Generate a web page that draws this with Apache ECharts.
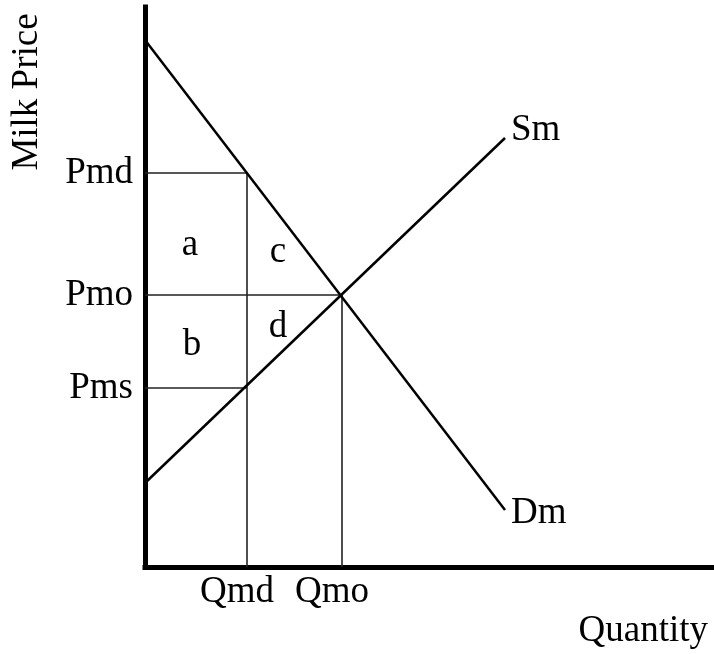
<!DOCTYPE html>
<html lang="en">
<head>
<meta charset="UTF-8">
<title>Milk Price</title>
<script src="https://cdn.jsdelivr.net/npm/echarts@6/dist/echarts.min.js"></script>
<style>
    html, body { margin: 0; padding: 0; background: #fff; }
    #main { width: 714px; height: 654px; }
</style>
</head>
<body>
<div id="main"></div>
<script>
// values (about 10px per unit on both axes)
var qNames = ['Qmd', 'Qmo'];
var qValues = [10.2, 19.7];
var pNames = ['Pms', 'Pmo', 'Pmd'];
var pValues = [17.9, 27.2, 39.4];
var demand = [[0, 52.7], [36.0, 5.7]];
var supply = [[0, 8.4], [36.0, 42.9]];
var areaNames = ['a', 'b', 'c', 'd'];
var areaPoints = [[4.5, 32.2], [4.7, 22.2], [13.3, 31.5], [13.3, 24.0]];

var FONT = 'Liberation Serif';
var qmd = qValues[0], qmo = qValues[1];
var pms = pValues[0], pmo = pValues[1], pmd = pValues[2];

// dropped guide lines from the axes to the curves
var guides = [
    [[0, pmd], [qmd, pmd], [qmd, 0]],
    [[0, pmo], [qmo, pmo], [qmo, 0]],
    [[0, pms], [qmd, pms]]
];

var axisStyle = { color: '#000', width: 5, cap: 'square' };
var textStyle = { fontFamily: FONT, fontSize: 37, color: '#000' };

var series = [];
guides.forEach(function (g) {
    series.push({
        type: 'line', data: g, showSymbol: false, silent: true, z: 2,
        lineStyle: { color: '#222', width: 1.6 }
    });
});
series.push({
    type: 'line', data: demand, showSymbol: false, z: 3,
    lineStyle: { color: '#000', width: 2.5 },
    endLabel: { show: true, formatter: 'Dm', distance: 6, offset: [0, 3],
        fontFamily: FONT, fontSize: 37, color: '#000' }
});
series.push({
    type: 'line', data: supply, showSymbol: false, z: 3,
    lineStyle: { color: '#000', width: 2.5 },
    endLabel: { show: true, formatter: 'Sm', distance: 6, offset: [0, -8],
        fontFamily: FONT, fontSize: 37, color: '#000' }
});
series.push({
    type: 'scatter', symbolSize: 1, z: 4,
    itemStyle: { color: 'rgba(0,0,0,0)', opacity: 1 },
    data: areaPoints.map(function (p, i) { return { name: areaNames[i], value: p }; }),
    label: { show: true, position: 'inside', formatter: '{b}', opacity: 1,
        fontFamily: FONT, fontSize: 37, color: '#000' }
});

var chart = echarts.init(document.getElementById('main'));
chart.setOption({
    backgroundColor: '#fff',
    animation: false,
    grid: { left: 145, right: 0, top: 7, bottom: 87, outerBoundsMode: 'none' },
    xAxis: {
        type: 'value', min: 0, max: 56.9,
        axisLine: { show: true, lineStyle: axisStyle },
        axisTick: { show: false },
        splitLine: { show: false },
        axisLabel: Object.assign({
            customValues: qValues, margin: 7, padding: [0, 20, 0, 0],
            formatter: function (v) { return qNames[qValues.indexOf(v)]; }
        }, textStyle)
    },
    yAxis: {
        type: 'value', min: 0, max: 56,
        axisLine: { show: true, lineStyle: axisStyle },
        axisTick: { show: false },
        splitLine: { show: false },
        axisLabel: Object.assign({
            customValues: pValues, margin: 12,
            formatter: function (v) { return pNames[pValues.indexOf(v)]; }
        }, textStyle)
    },
    // axis titles sit away from the axis ends, so they are placed by hand
    graphic: [
        { type: 'text', x: 27, y: 92, rotation: Math.PI / 2,
          style: { text: 'Milk Price', font: '37px "Liberation Serif"', fill: '#000',
                   align: 'center', verticalAlign: 'middle' } },
        { type: 'text', x: 708, y: 631,
          style: { text: 'Quantity', font: '37px "Liberation Serif"', fill: '#000',
                   align: 'right', verticalAlign: 'middle' } }
    ],
    series: series
});
</script>
</body>
</html>
